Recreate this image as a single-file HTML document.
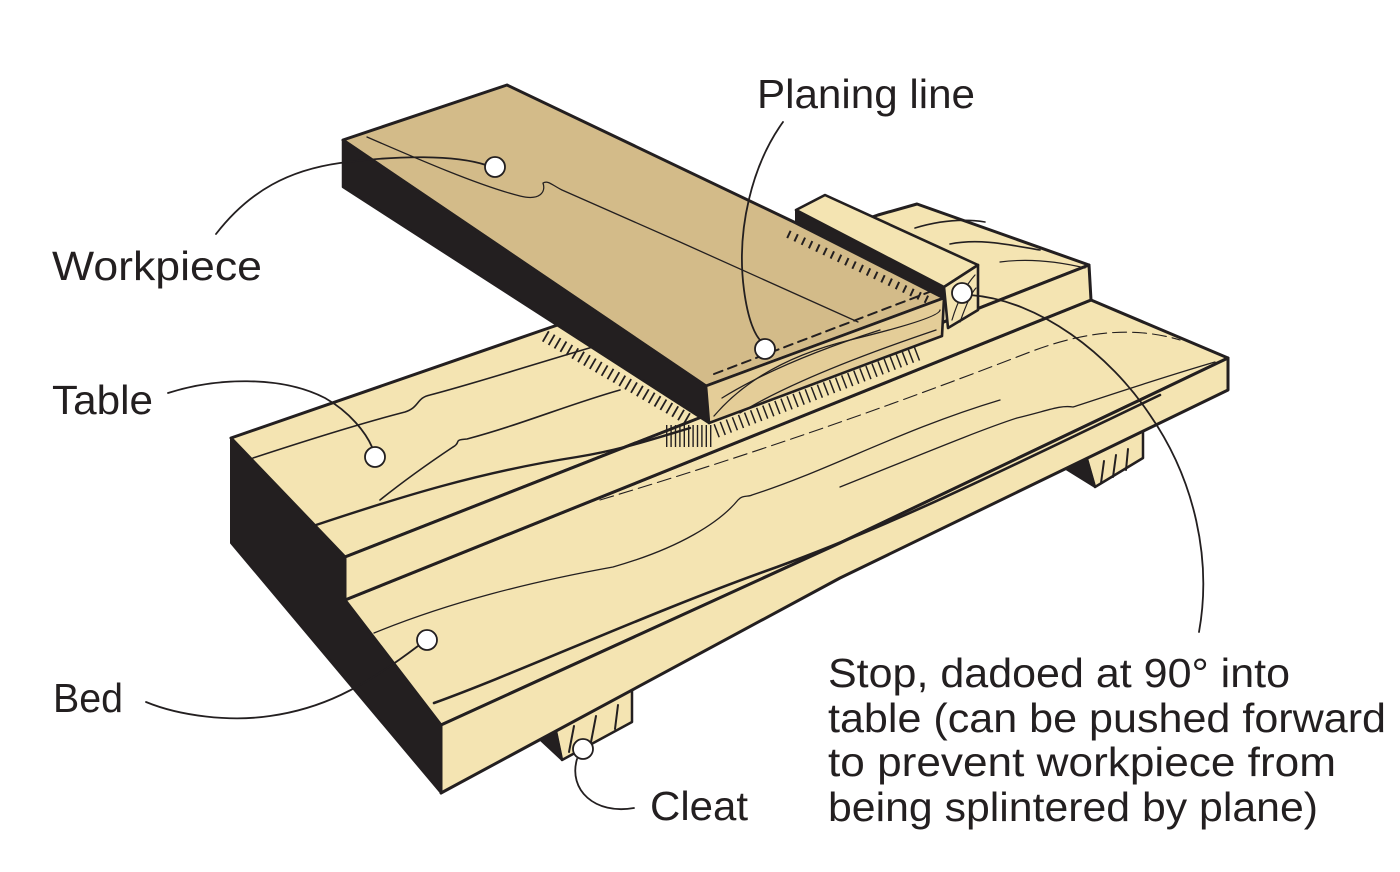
<!DOCTYPE html>
<html>
<head>
<meta charset="utf-8">
<style>
  html,body{margin:0;padding:0;background:#ffffff;}
  svg{display:block;}
  text{font-family:"Liberation Sans", sans-serif; fill:#231f20;}
</style>
</head>
<body>
<svg width="1400" height="872" viewBox="0 0 1400 872" xmlns="http://www.w3.org/2000/svg">
  <rect x="0" y="0" width="1400" height="872" fill="#ffffff"/>

  <g stroke="#231f20" stroke-linejoin="round" stroke-linecap="round">
    <!-- Cleats (under bed) -->
    <polygon points="552,712 632,678 632,722 562,760" fill="#f4e4b2" stroke-width="2.5"/>
    <polygon points="533,733 552,712 562,760" fill="#231f20" stroke-width="2"/>
    <path d="M574,726 L569,752 M596,716 L591,742 M618,705 L615,729" fill="none" stroke-width="2"/>

    <polygon points="1085,452 1143,425 1143,458 1095,487" fill="#f4e4b2" stroke-width="2.5"/>
    <polygon points="1066,469 1085,452 1095,487" fill="#231f20" stroke-width="2"/>
    <path d="M1104,461 L1101,483 M1116,455 L1113,477 M1128,449 L1126,470" fill="none" stroke-width="2"/>

    <!-- Bed -->
    <polygon points="345,600 1091,300 1228,358 840,543 441,725" fill="#f4e4b2" stroke-width="3"/>
    <polygon points="441,725 840,543 1228,358 1228,390 840,578 530,745 441,793" fill="#f4e4b2" stroke-width="3"/>

    <!-- Dark end face -->
    <polygon points="231,438 345,557 345,600 441,725 441,793 231,543" fill="#231f20" stroke-width="2"/>

    <!-- Table -->
    <polygon points="231,438 543,330 878,215 917,204 1089,265 345,557" fill="#f4e4b2" stroke-width="3"/>
    <polygon points="345,557 1089,265 1091,300 345,600" fill="#f4e4b2" stroke-width="3"/>

    <!-- Table grain -->
    <g fill="none" stroke-width="1.6">
      <path d="M253,458 C 320,436 370,421 405,412 C 420,407 416,398 430,395 C 480,382 540,362 610,342"/>
      <path d="M380,500 C 410,476 438,457 453,447 C 462,442 452,440 467,439 C 520,425 570,404 620,390"/>
      <path d="M316,525 C 400,497 480,472 577,457 C 620,450 650,440 690,428" stroke-width="2.4"/>
      <path d="M915,228 C 935,222 960,218 985,222"/>
      <path d="M950,244 C 980,238 1010,245 1040,250"/>
      <path d="M1000,262 C 1030,258 1060,262 1085,268" stroke-width="1.2"/>
    </g>

    <!-- Bed grain -->
    <g fill="none">
      <path d="M434,703 C 520,672 650,612 777,567 C 900,522 1020,462 1160,395" stroke-width="2.6"/>
      <path d="M374,633 C 450,602 530,582 613,567 C 680,548 720,522 738,500 C 742,495 748,497 752,495 C 830,470 900,430 1000,400" stroke-width="1.3"/>
      <path d="M600,500 C 750,455 880,410 1030,352 C 1080,333 1130,325 1180,340" stroke-width="1.1" stroke-dasharray="14 6"/>
      <path d="M840,487 C 920,455 980,430 1017,418 C 1050,410 1060,405 1073,407 C 1110,395 1160,378 1215,362" stroke-width="1.3"/>
    </g>

    <!-- Stop -->
    <polygon points="796,210 944,287 944,300 796,224" fill="#231f20" stroke-width="2"/>
    <polygon points="796,210 825,195 978,265 944,287" fill="#f4e4b2" stroke-width="2.6"/>
    <polygon points="944,287 978,265 978,310 948,328" fill="#f4e4b2" stroke-width="2.6"/>
    <path d="M952,320 C 958,300 966,285 975,275 M960,322 C 966,305 972,292 976,288" fill="none" stroke-width="1.2"/>

    <!-- Workpiece -->
    <polygon points="343,140 507,85 796,223 944,298 706,386" fill="#d3bb89" stroke-width="3"/>
    <polygon points="343,140 706,386 709,423 343,187" fill="#231f20" stroke-width="2.5"/>
    <polygon points="706,386 944,298 942,336 709,423" fill="#e4cd98" stroke-width="2.6"/>
    <g fill="none" stroke-width="1.3">
      <path d="M714,416 Q 760,362 850,340 T 940,310"/>
      <path d="M740,413 Q 800,376 936,330"/>
      <path d="M722,398 Q 780,362 880,330"/>
    </g>

    <!-- Workpiece top grain -->
    <path d="M367,137 C 420,160 480,186 520,196 C 540,201 546,192 543,183 C 548,180 552,185 562,190 L 680,242 L 858,322" fill="none" stroke-width="1.3"/>

    <!-- Planing line (dashed) -->
    <path d="M714,374 L 932,291" fill="none" stroke-width="2" stroke-dasharray="9 6"/>

    <!-- Shaving / tick hatches -->
    <path d="M545,336 L 688,419" fill="none" stroke-width="12" stroke-dasharray="1.8 5" stroke-linecap="butt"/>
    <path d="M788,234 L 928,300" fill="none" stroke-width="8" stroke-dasharray="2 6" stroke-linecap="butt"/>
    <path d="M716,431 L 922,352" fill="none" stroke-width="14" stroke-dasharray="1.5 5" stroke-linecap="butt"/>
    <path d="M666,436 L 712,436" fill="none" stroke-width="22" stroke-dasharray="1.4 3" stroke-linecap="butt"/>
  </g>

  <!-- Leader lines -->
  <g fill="none" stroke="#231f20" stroke-width="1.8" stroke-linecap="round">
    <path d="M216,234 C 250,190 290,170 340,163 C 400,155 455,155 486,165"/>
    <path d="M783,122 C 752,165 736,230 744,290 C 748,320 755,336 762,342"/>
    <path d="M970,295 C 1040,300 1110,355 1150,415 C 1195,480 1212,560 1199,632"/>
    <path d="M168,393 C 215,378 280,375 325,398 C 350,412 366,433 372,447"/>
    <path d="M146,702 C 180,716 230,722 270,716 C 320,709 360,690 418,646"/>
    <path d="M577,759 C 568,790 595,815 634,808"/>
  </g>

  <!-- Dots -->
  <g fill="#ffffff" stroke="#231f20" stroke-width="1.8">
    <circle cx="495" cy="167" r="10"/>
    <circle cx="765" cy="349" r="10"/>
    <circle cx="962" cy="293" r="10"/>
    <circle cx="375" cy="457" r="10"/>
    <circle cx="427" cy="640" r="10"/>
    <circle cx="583" cy="749" r="10"/>
  </g>

  <!-- Labels -->
  <g font-size="41">
    <text x="52" y="280" textLength="210" lengthAdjust="spacingAndGlyphs">Workpiece</text>
    <text x="757" y="108" textLength="218" lengthAdjust="spacingAndGlyphs">Planing line</text>
    <text x="52" y="414" textLength="101" lengthAdjust="spacingAndGlyphs">Table</text>
    <text x="53" y="712" textLength="70" lengthAdjust="spacingAndGlyphs">Bed</text>
    <text x="650" y="820" textLength="98" lengthAdjust="spacingAndGlyphs">Cleat</text>
    <text x="828" y="687" textLength="462" lengthAdjust="spacingAndGlyphs">Stop, dadoed at 90° into</text>
    <text x="828" y="732" textLength="558" lengthAdjust="spacingAndGlyphs">table (can be pushed forward</text>
    <text x="828" y="776" textLength="508" lengthAdjust="spacingAndGlyphs">to prevent workpiece from</text>
    <text x="828" y="821" textLength="490" lengthAdjust="spacingAndGlyphs">being splintered by plane)</text>
  </g>
</svg>
</body>
</html>
